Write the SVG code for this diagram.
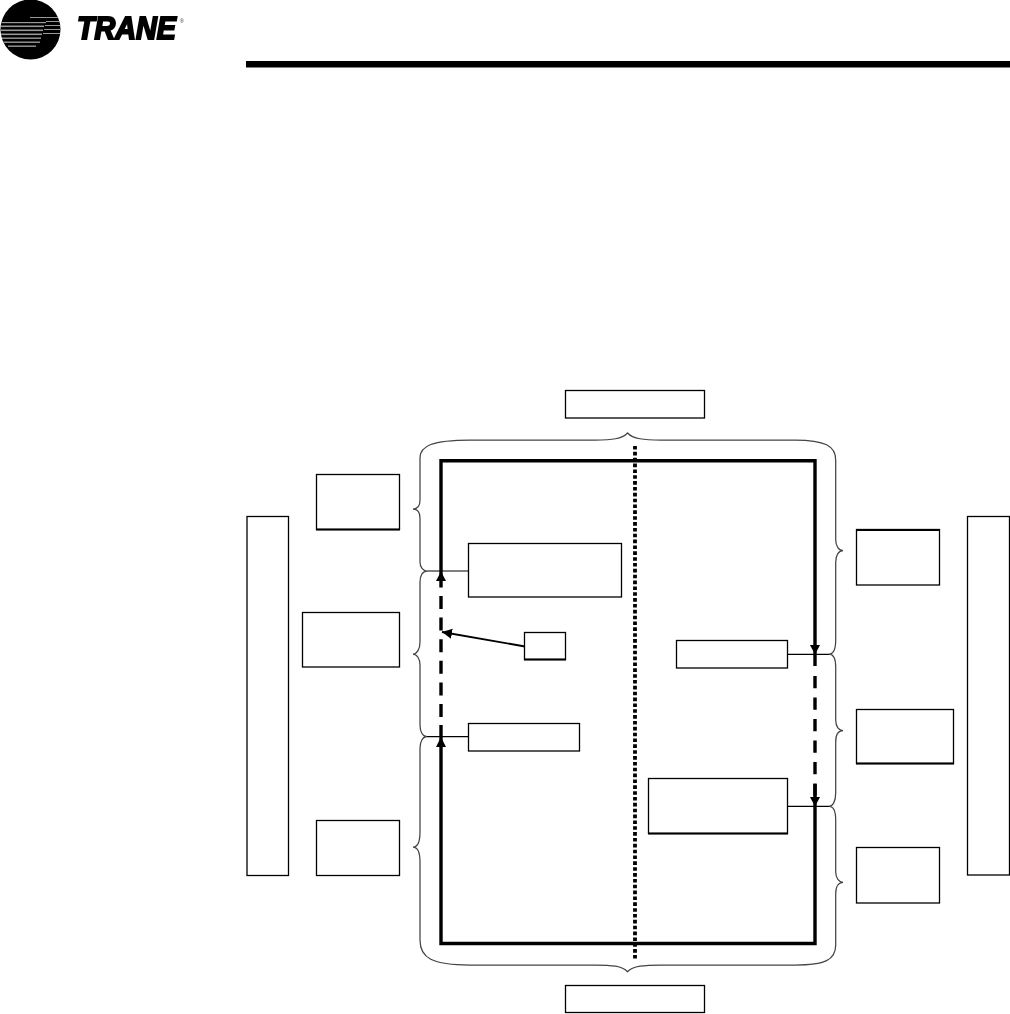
<svg xmlns="http://www.w3.org/2000/svg" width="1010" height="1014" viewBox="0 0 1010 1014">
<defs>
<marker id="ah" markerUnits="userSpaceOnUse" markerWidth="12" markerHeight="12" refX="10" refY="5" orient="auto"><path d="M0,0L10,5L0,10Z" fill="#000"/></marker>
<clipPath id="globe"><circle cx="30.500" cy="29.500" r="30"/></clipPath>
<filter id="soft" x="-5%" y="-5%" width="110%" height="110%"><feGaussianBlur stdDeviation="0.700"/></filter>
</defs>
<style>
.box{fill:#fff;stroke:#000;stroke-width:1.300}
.edge{fill:none;stroke:#000;stroke-width:2.200}
.brace{fill:none;stroke:#444;stroke-width:1.250}
.thick{fill:none;stroke:#000;stroke-width:3.400}
.thin{fill:none;stroke:#000;stroke-width:1.200}
</style>
<rect width="1010" height="1014" fill="#fff"/>
<g id="logo" filter="url(#soft)">
<circle cx="30.500" cy="29.500" r="30" fill="#000"/>
<g clip-path="url(#globe)" fill="#999">
<rect x="0" y="22" width="46" height="1.200"/><rect x="0" y="25.500" width="44" height="1.600"/><rect x="0" y="29.500" width="43" height="1.600"/><rect x="0" y="33.500" width="42" height="1.600"/><rect x="0" y="37.500" width="41" height="1.400"/><rect x="2" y="41.500" width="38" height="1.400"/><rect x="8" y="45.500" width="28" height="1.400"/>
<rect x="30" y="17" width="31" height="1"/><rect x="46" y="21" width="15" height="1"/><rect x="45" y="25" width="16" height="1"/><rect x="44" y="29" width="17" height="1"/><rect x="43" y="33" width="18" height="1"/>
</g>
<text transform="translate(77,38.500) scale(.927,1)" font-family="'Liberation Sans',Arial,sans-serif" font-size="31" font-weight="700" font-style="italic" stroke="#000" stroke-width="2">TRANE<tspan dx="4" dy="-15.500" font-size="6" font-weight="400" font-style="normal" stroke="none" fill="#333">®</tspan></text>
</g>
<rect id="rule" x="246" y="61" width="764" height="6.500" fill="#000"/>
<g id="connectors">
<path class="brace" d="M427,571C423,571 420,567 420,562V518C420,512 417,509 413,509C417,509 420,506 420,500V458C420,446 432,440 470,440H595C612,440 622,439 627.500,433C633,439 644,440 661,440H795C825,440 835.700,446 835.700,460V540C835.700,546 839,550.700 843,550.700C839,550.700 835.700,555 835.700,562V640C835.700,649 833,654 829,654C833,654 835.700,658 835.700,667V720C835.700,727 839,730.700 843,730.700C839,730.700 835.700,734 835.700,742V793C835.700,801 833,806.300 829,806.300C833,806.300 835.700,811 835.700,820V872C835.700,878 839,882.300 843,882.300C839,882.300 835.700,886 835.700,894V945C835.700,960 825,965 795,965H661C644,965 633,966 627.500,971.700C622,966 612,965 595,965H470C432,965 420,958 420,940V862C420,852 417,847 413,847C417,847 420,842 420,832V748C420,741 423,736.700 427,736.700C423,736.700 420,732 420,725V665C420,659 417,654 413,654C417,654 420,649 420,642V582C420,575 423,571 427,571"/>
<path class="thin" d="M427,571H469M427,736.700H469M788,654.300H829M788,806.300H829"/>
<path class="thick" d="M441,575V460.700H815V666"/>
<path class="thick" d="M815,784V943.500H441V725"/>
<path class="thick" d="M441,717V574" stroke-dasharray="13 8.600"/>
<path class="thick" d="M815,676V797" stroke-dasharray="12.300 9.200"/>
<path d="M635,446V960" fill="none" stroke="#000" stroke-width="3.800" stroke-dasharray="3.600 2.250"/>
<path d="M441,571.500L436,581H446Z"/><path d="M441,737L436,747H446Z"/><path d="M815,654.500L810,645H820Z"/><path d="M815,806.500L810,797H820Z"/>
<path d="M525,646.500L442,632" fill="none" stroke="#000" stroke-width="1.800" marker-end="url(#ah)"/>
</g>
<g id="n1"><rect class="box" x="565.500" y="390.500" width="139" height="27.500"/></g>
<g id="n2"><rect class="box" x="316.500" y="474.500" width="83" height="55"/><path class="edge" d="M316,529.500H400"/></g>
<g id="n3"><rect class="box" x="302.500" y="612.500" width="97" height="54.500"/></g>
<g id="n4"><rect class="box" x="316.500" y="820.500" width="83" height="55"/></g>
<g id="n5"><rect class="box" x="247" y="516.500" width="41.500" height="359"/></g>
<g id="n6"><rect class="box" x="468.500" y="543.500" width="153" height="53.500"/></g>
<g id="n7"><rect class="box" x="524.500" y="632.500" width="41" height="27"/><path class="edge" d="M524,659.500H566"/></g>
<g id="n8"><rect class="box" x="468.500" y="723.500" width="111" height="27.500"/></g>
<g id="n9"><rect class="box" x="676.500" y="640.500" width="111" height="27.500"/></g>
<g id="n10"><rect class="box" x="648.500" y="778.500" width="139" height="55"/><path class="edge" d="M648,833.500H788"/></g>
<g id="n11"><rect class="box" x="856.500" y="529.500" width="83" height="55.500"/><path class="edge" d="M856,530H940"/></g>
<g id="n12"><rect class="box" x="856.500" y="709.500" width="97" height="54"/><path class="edge" d="M856,763.500H954"/></g>
<g id="n13"><rect class="box" x="856.500" y="847.500" width="83" height="55.500"/></g>
<g id="n14"><rect class="box" x="967.500" y="516.500" width="42" height="358.500"/></g>
<g id="n15"><rect class="box" x="565.500" y="985.500" width="139" height="27"/></g>
</svg>
